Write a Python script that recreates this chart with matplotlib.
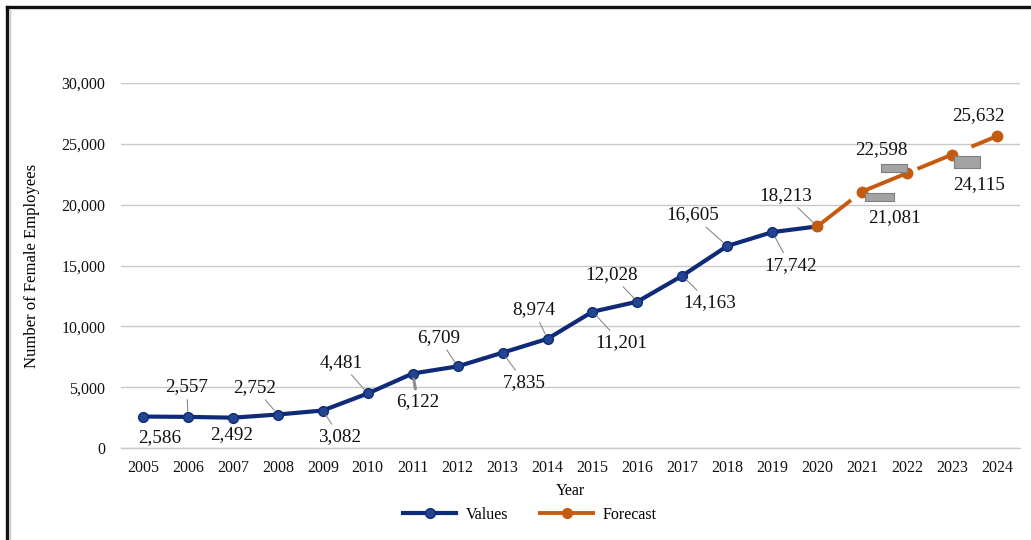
import matplotlib
matplotlib.use("Agg")
import matplotlib.pyplot as plt
from matplotlib.lines import Line2D
from matplotlib.transforms import offset_copy
from matplotlib.ticker import FuncFormatter

plt.rcParams["font.family"] = ["Liberation Serif", "DejaVu Serif"]

years = list(range(2005, 2025))
values = [2586, 2557, 2492, 2752, 3082, 4481, 6122, 6709, 7835, 8974,
          11201, 12028, 14163, 16605, 17742, 18213]
forecast = [21081, 22598, 24115, 25632]

# label placement (offset in pixels from each point) and leader line width (0 = none)
label_offsets = [(17, -21), (-1, 30), (-1, -17), (-23, 27), (17, -26), (-27, 31),
                 (5, -28), (-19, 29), (22, -30), (-14, 29), (29, -31), (-26, 27),
                 (27, -27), (-35, 31), (18, -33), (-32, 31), (32, -26), (-26, 23),
                 (27, -30), (-19, 21)]
leader_lw = [0, 0.8, 0, 0.8, 0.8, 0.8, 2.2, 0.8, 0.8, 0.8,
             0.8, 0.8, 0.8, 0.8, 0.8, 0.8, 0, 0, 0, 0]

NAVY = "#0f2b78"
ORANGE = "#c55a11"

DPI = 100
fig = plt.figure(figsize=(10.31, 5.40), dpi=DPI)
ax = fig.add_axes([120.5 / 1031, 92 / 540, 899 / 1031, 365 / 540])

x_all = list(range(len(years)))
all_vals = values + forecast
n_val = len(values)

ax.plot(x_all[:n_val], values, color=NAVY, lw=3.0, marker="o", ms=7,
        mfc="#23448f", mec=NAVY, mew=1.0, solid_capstyle="round", zorder=3,
        label="Values")
fx = x_all[n_val - 1:]
fy = [values[-1]] + forecast
ax.plot(fx, fy, color=ORANGE, lw=2.8, dashes=(11, 4), marker="o", ms=7.5,
        mfc=ORANGE, mec=ORANGE, zorder=4, label="Forecast")

ax.set_xlim(-0.5, len(years) - 0.5)
ax.set_ylim(0, 30000)
ax.set_yticks(range(0, 30001, 5000))
ax.yaxis.set_major_formatter(FuncFormatter(lambda v, p: f"{int(v):,}"))
ax.set_xticks(x_all)
ax.set_xticklabels([str(y) for y in years])
ax.tick_params(axis="both", length=0, labelsize=11.5, colors="#111111")
ax.tick_params(axis="y", pad=11)
ax.tick_params(axis="x", pad=9)
ax.grid(axis="y", color="#c9c9c9", lw=1)
ax.axhline(0, color="#c9c9c9", lw=1, clip_on=False, zorder=0)
ax.set_axisbelow(True)
for s in ax.spines.values():
    s.set_visible(False)

ax.set_xlabel("Year", fontsize=11.5, labelpad=5)
ax.set_ylabel("Number of Female Employees", fontsize=12)
ax.yaxis.set_label_coords(-0.089, 0.5)

# data labels
for i, v in enumerate(all_vals):
    dx, dy = label_offsets[i]
    kw = {}
    if leader_lw[i]:
        kw["arrowprops"] = dict(arrowstyle="-", color="#8c8c8c", lw=leader_lw[i],
                                shrinkA=1, shrinkB=4)
    ax.annotate(f"{v:,}", xy=(i, v), xytext=(dx, dy), textcoords="offset pixels",
                ha="center", va="center", fontsize=13.8, color="#111111",
                zorder=5, **kw)

# grey leader boxes on the forecast labels
bar_offsets = [(17, -5, 4.0, 29), (-13, 5, 3.4, 27), (15, -7.5, 2.2, 26)]
for k, (dx, dy, aspect, w) in enumerate(bar_offsets):
    i = n_val + k
    verts = [(-aspect / 2, -0.5), (aspect / 2, -0.5), (aspect / 2, 0.5),
             (-aspect / 2, 0.5), (-aspect / 2, -0.5)]
    tr = offset_copy(ax.transData, fig=fig, x=dx, y=dy, units="dots")
    ax.plot([i], [all_vals[i]], marker=verts, ms=w * 0.72, mfc="#a3a3a3",
            mec="#7f7f7f", mew=0.8, ls="none", transform=tr, zorder=4)

fig.legend(handles=[
    Line2D([], [], color=NAVY, lw=3.0, marker="o", ms=7, mfc="#23448f", mec=NAVY),
    Line2D([], [], color=ORANGE, lw=2.8, marker="o", ms=7, mfc=ORANGE, mec=ORANGE),
], labels=["Values", "Forecast"], loc="center", bbox_to_anchor=(530 / 1031, 25 / 540),
    ncol=2, frameon=False, fontsize=11.5, handlelength=3.3, columnspacing=2.0,
    handletextpad=0.6)

# outer frame (left and top edges)
fig.add_artist(Line2D([7 / 1031, 7 / 1031], [0, 533 / 540], color="#111111", lw=2.4,
                      transform=fig.transFigure))
fig.add_artist(Line2D([7 / 1031, 1030 / 1031], [533 / 540, 533 / 540], color="#111111",
                      lw=2.4, transform=fig.transFigure))
fig.add_artist(Line2D([9.5 / 1031, 9.5 / 1031], [0, 530.5 / 540], color="#c8c8c8", lw=1,
                      transform=fig.transFigure))

fig.savefig("out.png", dpi=DPI, facecolor="white")
